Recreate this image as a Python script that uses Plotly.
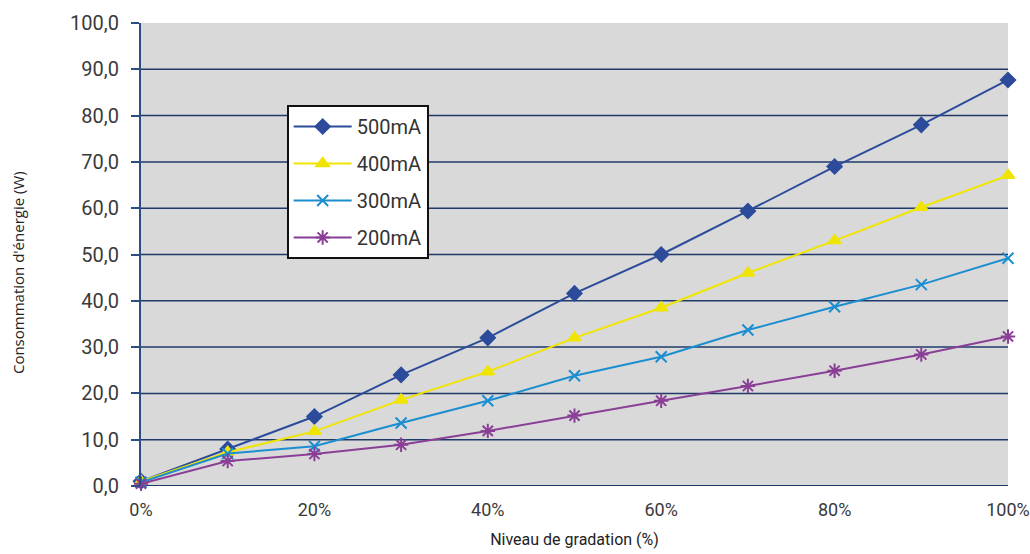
import plotly.graph_objects as go

levels = [0, 10, 20, 30, 40, 50, 60, 70, 80, 90, 100]
s500 = [1.0, 8.0, 15.0, 24.0, 32.0, 41.6, 50.0, 59.4, 69.0, 78.0, 87.7]
s400 = [1.0, 7.3, 11.8, 18.6, 24.7, 32.0, 38.5, 46.0, 53.0, 60.2, 67.1]
s300 = [0.8, 7.0, 8.6, 13.6, 18.4, 23.8, 27.9, 33.7, 38.7, 43.5, 49.2]
s200 = [0.5, 5.4, 6.9, 8.9, 11.9, 15.2, 18.4, 21.6, 24.9, 28.4, 32.3]
names = ["500mA", "400mA", "300mA", "200mA"]
x_ticks = [0, 20, 40, 60, 80, 100]
x_labels = ["0%", "20%", "40%", "60%", "80%", "100%"]
y_ticks = [0, 10, 20, 30, 40, 50, 60, 70, 80, 90, 100]
x_title = "Niveau de gradation (%)"
y_title = "Consommation d'énergie (W)"

series = [s500, s400, s300, s200]
colors = ["#2C4B9B", "#F0E500", "#1B8ED0", "#8A3F96"]
symbols = ["diamond", "triangle-up", "x-thin", "asterisk"]
sizes = [11, 11, 11, 12]

fig = go.Figure()
for name, vals, c, sym, sz in zip(names, series, colors, symbols, sizes):
    fig.add_trace(go.Scatter(
        x=levels, y=vals, name=name, mode="lines+markers", legendgroup=name,
        line=dict(color=c, width=2),
        marker=dict(symbol=sym, size=sz, color=c, line=dict(color=c, width=2)),
        cliponaxis=False,
    ))

grid_color = "#1F3A68"
# horizontal gridlines (except at the top edge, which the reference leaves blank)
for v in y_ticks[:-1]:
    fig.add_shape(type="line", xref="paper", yref="y", x0=0, x1=1, y0=v, y1=v,
                  layer="below", line=dict(color=grid_color, width=1.5 if v else 2))

fig.add_annotation(text=y_title, textangle=-90, xref="paper", yref="paper",
                   x=-0.1419, y=0.462, xanchor="center", yanchor="middle",
                   showarrow=False,
                   font=dict(size=15, color="#222222", family="Open Sans, sans-serif"))

y_tick_font = dict(family="Roboto, Arial, sans-serif", size=20, color="#3A3A3A")
x_tick_font = dict(family="Roboto, Arial, sans-serif", size=18, color="#3A3A3A")
fig.update_layout(
    width=1030, height=554,
    margin=dict(l=141, r=22, t=23, b=68),
    paper_bgcolor="white", plot_bgcolor="#D9D9D9",
    separators=", ",
    font=dict(family="Roboto, Arial, sans-serif", color="#333333", size=18),
    showlegend=True,
    legend=dict(
        x=0.168, y=0.823, xanchor="left", yanchor="top",
        bgcolor="white", bordercolor="#111111", borderwidth=2,
        font=dict(size=20, color="#333333", family="Roboto, Arial, sans-serif"),
        tracegroupgap=8, itemwidth=58,
    ),
    xaxis=dict(
        range=[0, 100], tickvals=x_ticks, ticktext=x_labels,
        showgrid=False, zeroline=False, showline=False,
        ticks="", ticklabelstandoff=11, tickfont=x_tick_font, automargin=False,
        ticklabeloverflow="allow",
        title=dict(text=x_title,
                   font=dict(size=16, color="#222222", family="Roboto, sans-serif"),
                   standoff=14),
    ),
    yaxis=dict(
        range=[0, 100], tickvals=y_ticks, tickformat=".1f",
        showgrid=False, zeroline=False, showline=True, linecolor="#2B4F85", linewidth=2,
        ticks="outside", ticklen=8, tickcolor="#2B4F85", tickwidth=1.5,
        ticklabelstandoff=8, tickfont=y_tick_font, automargin=False,
        ticklabeloverflow="allow",
    ),
)

fig.write_html("out.html", config={"displayModeBar": False},
               post_script="document.body.style.margin='0';")
